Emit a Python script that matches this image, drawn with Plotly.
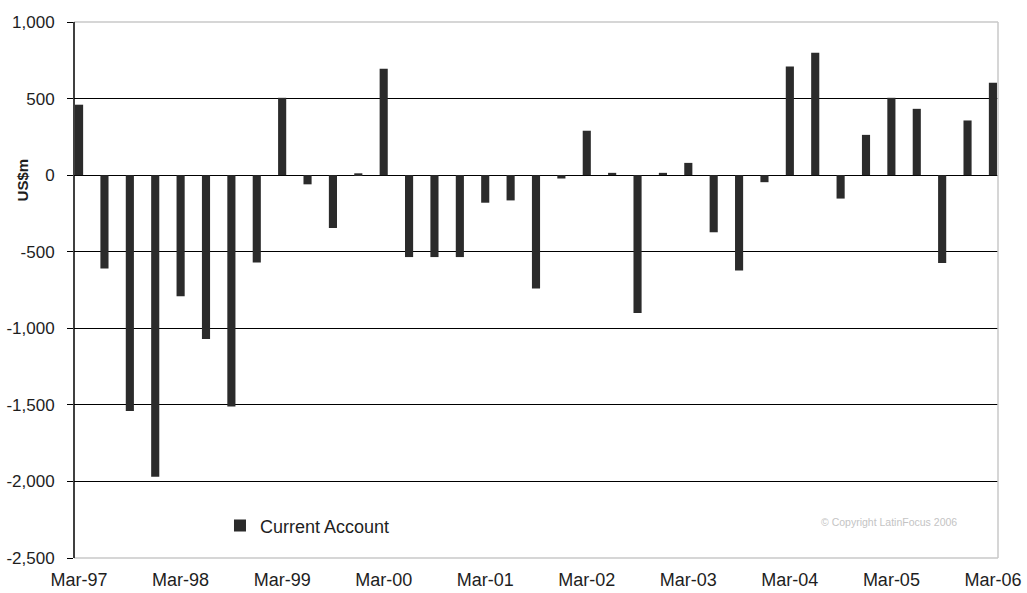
import plotly.graph_objects as go

# Quarterly current account balance, US$ millions
months = ["Mar", "Jun", "Sep", "Dec"]
years = ["97", "98", "99", "00", "01", "02", "03", "04", "05", "06"]
quarters = [f"{m}-{y}" for y in years for m in months][:37]

current_account = [
    460, -610, -1540, -1970,
    -790, -1070, -1510, -570,
    505, -60, -345, 12,
    695, -535, -535, -535,
    -180, -165, -740, -22,
    290, 15, -900, 15,
    80, -373, -622, -46,
    710, 800, -153, 263,
    505, 433, -573, 357,
    603,
]

tick_labels = [q for q in quarters if q.startswith("Mar")]
y_ticks = [1000, 500, 0, -500, -1000, -1500, -2000, -2500]
y_tick_text = [f"{v:,}" for v in y_ticks]

FONT = "Liberation Sans, Arial, sans-serif"
INK = "#1e1e1e"

fig = go.Figure(
    go.Bar(
        x=quarters,
        y=current_account,
        name="Current Account",
        marker=dict(color="#2b2b2b", line=dict(width=0)),
        width=0.32,
    )
)

fig.update_layout(
    width=1027,
    height=593,
    margin=dict(l=74, r=29, t=22, b=35, autoexpand=False),
    paper_bgcolor="white",
    plot_bgcolor="white",
    font=dict(family=FONT, color=INK),
    showlegend=True,
    legend=dict(
        x=0.158,
        y=0.060,
        xanchor="left",
        yanchor="middle",
        bgcolor="rgba(0,0,0,0)",
        font=dict(size=18, family=FONT, color=INK),
    ),
    xaxis=dict(
        type="category",
        range=[-0.2, 36.2],
        tickvals=tick_labels,
        ticktext=tick_labels,
        ticks="",
        showgrid=False,
        showline=False,
        automargin=False,
        tickfont=dict(size=18, family=FONT, color=INK),
        ticklabelstandoff=9,
    ),
    yaxis=dict(
        range=[-2500, 1000],
        tickvals=y_ticks,
        ticktext=y_tick_text,
        ticks="outside",
        ticklen=6,
        tickcolor="#000000",
        showgrid=True,
        gridcolor="#000000",
        gridwidth=1,
        zeroline=True,
        zerolinecolor="#000000",
        zerolinewidth=1,
        showline=False,
        automargin=False,
        tickfont=dict(size=17, family=FONT, color=INK),
        ticklabelstandoff=9,
    ),
    annotations=[
        dict(
            text="<b>US$m</b>",
            textangle=-90,
            xref="paper",
            yref="paper",
            x=-0.056,
            y=0.705,
            xanchor="center",
            yanchor="middle",
            showarrow=False,
            font=dict(size=15, family=FONT, color=INK),
        ),
        dict(
            text="© Copyright LatinFocus 2006",
            xref="paper",
            yref="paper",
            x=0.882,
            y=0.068,
            xanchor="center",
            yanchor="middle",
            showarrow=False,
            font=dict(size=10.5, family=FONT, color="#c4c4c4"),
        ),
    ],
    shapes=[
        # grey frame around the plot, black left axis
        dict(type="line", xref="paper", yref="paper", x0=1, x1=1, y0=0, y1=1,
             line=dict(color="#c8c8c8", width=1.5)),
        dict(type="line", xref="paper", yref="paper", x0=0, x1=1, y0=1, y1=1,
             line=dict(color="#c8c8c8", width=1.5)),
        dict(type="line", xref="paper", yref="paper", x0=0, x1=1, y0=0, y1=0,
             line=dict(color="#c8c8c8", width=1.5)),
        dict(type="line", xref="paper", yref="paper", x0=0, x1=0, y0=0, y1=1,
             line=dict(color="#000000", width=1.5)),
    ],
)

fig.write_html("out.html")
